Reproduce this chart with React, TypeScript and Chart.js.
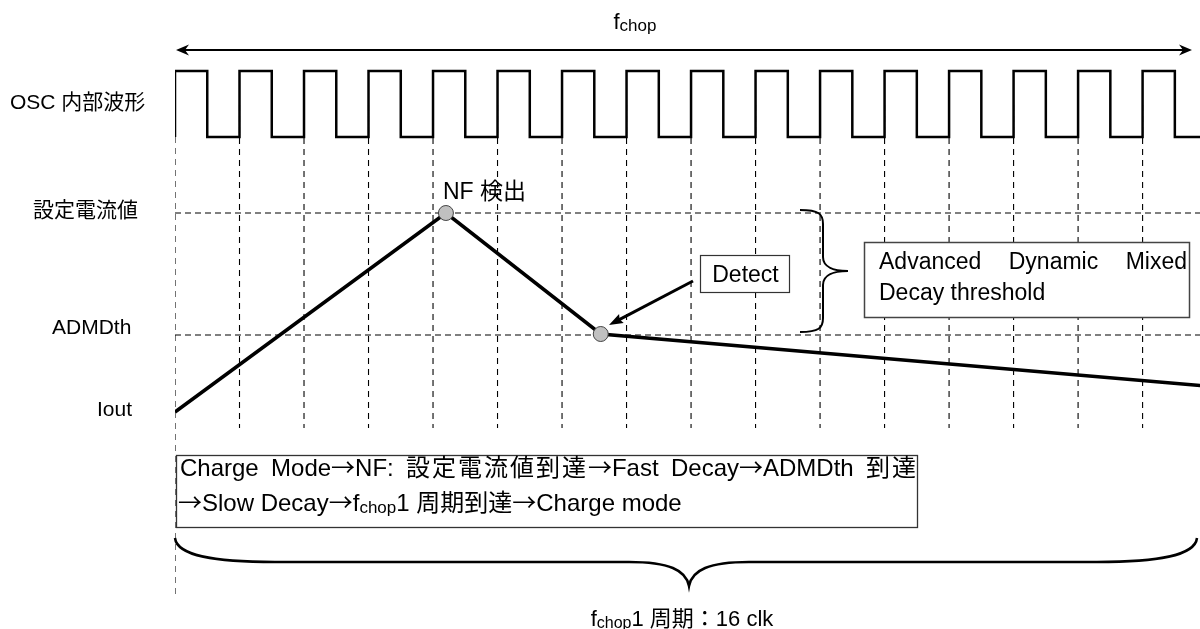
import React, { useEffect, useRef } from "react";
import { Chart, registerables } from "chart.js";

Chart.register(...registerables);

// ---- data (time in clk, levels in arbitrary current units) ----
const clkRise = [0, 1, 2, 3, 4, 5, 6, 7, 8, 9, 10, 11, 12, 13, 14, 15];
const clkFall = [0.5, 1.5, 2.5, 3.5, 4.5, 5.5, 6.5, 7.5, 8.5, 9.5, 10.5, 11.5, 12.5, 13.5, 14.5, 15.5];
const oscHigh = 55.8;
const oscLow = 49.2;
const gridTop = 52.4;
const gridBottom = 20.1;
const gridBottomFirst = 3.4;
const ioutTime = [0, 4.2, 6.6, 16];
const ioutLevel = [21.7, 41.6, 29.5, 24.3];
const ioutMarker = [0, 7.5, 7.5, 0];
const setCurrentLevel = 41.6;
const admdThLevel = 29.4;
const xMax = 15.89;
const yMax = 62.9;
const levelNames = ["OSC 内部波形", "設定電流値", "ADMDth", "Iout"];
const periodClk = 16;

const FONT = '"Liberation Sans", Arial, "Noto Sans CJK JP", sans-serif';
const ARROW_FONT = '"Noto Sans CJK JP", "DejaVu Sans", sans-serif';

type Seg = { t: string; size: number; dy: number };

function fontFor(c: string, size: number) {
  return c === "→" ? `${size}px ${ARROW_FONT}` : `${size}px ${FONT}`;
}

function charW(ctx: CanvasRenderingContext2D, c: string, size: number) {
  ctx.font = fontFor(c, size);
  return ctx.measureText(c).width;
}

function richWidth(ctx: CanvasRenderingContext2D, segs: Seg[]) {
  let w = 0;
  for (const s of segs) for (const c of Array.from(s.t)) w += charW(ctx, c, s.size);
  return w;
}

function drawRich(ctx: CanvasRenderingContext2D, segs: Seg[], x: number, y: number) {
  let cx = x;
  ctx.textAlign = "left";
  ctx.textBaseline = "alphabetic";
  for (const s of segs) {
    for (const c of Array.from(s.t)) {
      const w = charW(ctx, c, s.size);
      ctx.fillText(c, cx, y + s.dy);
      cx += w;
    }
  }
}

function isCJK(c: string) {
  const code = c.charCodeAt(0);
  return code >= 0x2e80;
}

function drawJustified(ctx: CanvasRenderingContext2D, text: string, x0: number, x1: number, y: number, size: number, cjkWeight: number) {
  ctx.textAlign = "left";
  ctx.textBaseline = "alphabetic";
  const chars = Array.from(text);
  const widths = chars.map((c) => charW(ctx, c, size));
  let natural = 0;
  let weightSum = 0;
  const gaps: number[] = [];
  chars.forEach((c, i) => {
    natural += widths[i];
    let g = 0;
    if (i < chars.length - 1) {
      if (c === " ") g = 1;
      else if (isCJK(c) || isCJK(chars[i + 1])) g = cjkWeight;
    }
    gaps.push(g);
    weightSum += g;
  });
  const unit = weightSum > 0 ? Math.max(0, (x1 - x0 - natural) / weightSum) : 0;
  let cx = x0;
  chars.forEach((c, i) => {
    ctx.font = fontFor(c, size);
    ctx.fillText(c, cx, y);
    cx += widths[i] + gaps[i] * unit;
  });
}

function arrowHead(ctx: CanvasRenderingContext2D, tipX: number, tipY: number, angle: number, len: number, half: number, notch: number) {
  ctx.save();
  ctx.translate(tipX, tipY);
  ctx.rotate(angle);
  ctx.beginPath();
  ctx.moveTo(0, 0);
  ctx.lineTo(-len, -half);
  ctx.lineTo(-len + notch, 0);
  ctx.lineTo(-len, half);
  ctx.closePath();
  ctx.fill();
  ctx.restore();
}

const overlay = {
  id: "overlay",
  afterDraw(chart: any) {
    const ctx: CanvasRenderingContext2D = chart.ctx;
    const xs = chart.scales.x;
    const ys = chart.scales.y;
    const px = (v: number) => xs.getPixelForValue(v);
    const py = (v: number) => ys.getPixelForValue(v);
    ctx.save();
    ctx.fillStyle = "#000";
    ctx.strokeStyle = "#000";

    // level labels
    ctx.font = `21px ${FONT}`;
    ctx.textBaseline = "middle";
    ctx.textAlign = "left";
    ctx.fillText(levelNames[0], 10, py((oscHigh + oscLow) / 2) - 0.5);
    ctx.fillText(levelNames[1], 33, py(setCurrentLevel) - 2);
    ctx.fillText(levelNames[2], 52, py(admdThLevel) - 6.5);
    ctx.fillText(levelNames[3], 97, py(ioutLevel[0]) - 1.5);

    // top f_chop double arrow
    const ay = 50;
    const ax0 = px(0) + 1;
    const ax1 = 1192;
    ctx.lineWidth = 2;
    ctx.beginPath();
    ctx.moveTo(ax0 + 6, ay);
    ctx.lineTo(ax1 - 6, ay);
    ctx.stroke();
    arrowHead(ctx, ax0, ay, Math.PI, 13, 5.5, 4);
    arrowHead(ctx, ax1, ay, 0, 13, 5.5, 4);
    const topSegs: Seg[] = [
      { t: "f", size: 22, dy: 0 },
      { t: "chop", size: 17, dy: 2 },
    ];
    const tw = richWidth(ctx, topSegs);
    drawRich(ctx, topSegs, 635 - tw / 2, 29);

    // NF 検出
    ctx.font = `23px ${FONT}`;
    ctx.textBaseline = "alphabetic";
    ctx.textAlign = "left";
    ctx.fillText("NF 検出", 443, 199);

    // Detect box
    ctx.lineWidth = 1.2;
    ctx.strokeStyle = "#333";
    ctx.fillStyle = "#fff";
    ctx.fillRect(700, 255, 89, 37);
    ctx.strokeRect(700.5, 255.5, 89, 37);
    ctx.fillStyle = "#000";
    ctx.font = `23px ${FONT}`;
    ctx.textAlign = "center";
    ctx.fillText("Detect", 745.5, 282);

    // Detect arrow
    ctx.strokeStyle = "#000";
    ctx.lineWidth = 3;
    const tipX = 609;
    const tipY = 325;
    const sx = 693;
    const sy = 281;
    const ang = Math.atan2(tipY - sy, tipX - sx);
    ctx.beginPath();
    ctx.moveTo(sx, sy);
    ctx.lineTo(tipX - Math.cos(ang) * 10, tipY - Math.sin(ang) * 10);
    ctx.stroke();
    arrowHead(ctx, tipX, tipY, ang, 14, 5, 2);

    // vertical brace
    ctx.lineWidth = 2;
    {
      const x0 = 800, xs2 = 823, xt = 848, yt = py(setCurrentLevel) - 3, yb = py(admdThLevel) - 3;
      const ym = (yt + yb) / 2;
      const r = 14;
      ctx.beginPath();
      ctx.moveTo(x0, yt);
      ctx.bezierCurveTo(xs2 - 4, yt, xs2, yt + 4, xs2, yt + r);
      ctx.lineTo(xs2, ym - r);
      ctx.bezierCurveTo(xs2, ym - 4, xt - 14, ym, xt, ym);
      ctx.bezierCurveTo(xt - 14, ym, xs2, ym + 4, xs2, ym + r);
      ctx.lineTo(xs2, yb - r);
      ctx.bezierCurveTo(xs2, yb - 4, xs2 - 4, yb, x0, yb);
      ctx.stroke();
    }

    // Advanced box
    ctx.fillStyle = "#fff";
    ctx.fillRect(864, 242, 326, 75);
    ctx.strokeStyle = "#444";
    ctx.lineWidth = 1.5;
    ctx.strokeRect(864.5, 242.5, 325, 75);
    ctx.fillStyle = "#000";
    drawJustified(ctx, "Advanced Dynamic Mixed", 879, 1187, 269, 23, 0);
    ctx.font = `23px ${FONT}`;
    ctx.textAlign = "left";
    ctx.fillText("Decay threshold", 879, 300);

    // bottom text box
    ctx.fillStyle = "#fff";
    ctx.fillRect(176, 455, 741, 72);
    ctx.strokeStyle = "#333";
    ctx.lineWidth = 1.3;
    ctx.strokeRect(176.5, 455.5, 741, 72);
    ctx.fillStyle = "#000";
    drawJustified(ctx, "Charge Mode→NF: 設定電流値到達→Fast Decay→ADMDth 到達", 180, 916, 476, 24, 0.35);
    drawRich(ctx, [
      { t: "→Slow Decay→f", size: 24, dy: 0 },
      { t: "chop", size: 17, dy: 2 },
      { t: "1 周期到達→Charge mode", size: 24, dy: 0 },
    ], 178, 511);

    // bottom horizontal brace
    {
      const bx0 = px(0);
      const bx1 = 1197;
      const tip = (bx0 + 1203) / 2;
      const yEnd = 538;
      const ySp = 562;
      const yTip = 586;
      ctx.strokeStyle = "#000";
      ctx.lineWidth = 2.5;
      ctx.beginPath();
      ctx.moveTo(bx0, yEnd);
      ctx.bezierCurveTo(bx0 + 2, ySp - 6, bx0 + 40, ySp, bx0 + 100, ySp);
      ctx.lineTo(tip - 60, ySp);
      ctx.bezierCurveTo(tip - 20, ySp, tip - 3, ySp + 8, tip, yTip);
      ctx.bezierCurveTo(tip + 3, ySp + 8, tip + 20, ySp, tip + 60, ySp);
      ctx.lineTo(bx1 - 100, ySp);
      ctx.bezierCurveTo(bx1 - 40, ySp, bx1 - 2, ySp - 6, bx1, yEnd);
      ctx.stroke();

      const segs: Seg[] = [
        { t: "f", size: 22, dy: 0 },
        { t: "chop", size: 16, dy: 2 },
        { t: `1 周期：${periodClk} clk`, size: 22, dy: 0 },
      ];
      const w = richWidth(ctx, segs);
      ctx.fillStyle = "#000";
      drawRich(ctx, segs, 682 - w / 2, 626);
    }

    ctx.restore();
  },
};

export default function App() {
  const ref = useRef<HTMLCanvasElement>(null);
  useEffect(() => {
    if (!ref.current) return;
    const oscPts: { x: number; y: number }[] = [];
    clkRise.forEach((r, i) => {
      oscPts.push({ x: r, y: oscLow });
      oscPts.push({ x: r, y: oscHigh });
      oscPts.push({ x: clkFall[i], y: oscHigh });
      oscPts.push({ x: clkFall[i], y: oscLow });
    });
    oscPts.push({ x: periodClk, y: oscLow });

    const vPts: { x: number; y: number | null }[] = [];
    clkRise.forEach((r, i) => {
      vPts.push({ x: r, y: i === 0 ? oscLow : gridTop });
      vPts.push({ x: r, y: i === 0 ? gridBottomFirst : gridBottom });
      vPts.push({ x: r, y: null });
    });

    const ioutPts = ioutTime.map((t, i) => ({ x: t, y: ioutLevel[i] }));

    const chart = new Chart(ref.current, {
      type: "line",
      data: {
        datasets: [
          {
            data: ioutPts,
            borderColor: "#000",
            borderWidth: 3.5,
            pointRadius: ioutMarker,
            pointBackgroundColor: "#c0c0c0",
            pointBorderColor: "#444",
            pointBorderWidth: 1,
            tension: 0,
            order: 0,
          },
          {
            data: oscPts,
            borderColor: "#000",
            borderWidth: 2.5,
            pointRadius: 0,
            tension: 0,
            order: 1,
          },
          {
            data: [
              { x: 0, y: setCurrentLevel },
              { x: xMax, y: setCurrentLevel },
            ],
            borderColor: "#000",
            borderWidth: 1.1,
            borderDash: [6, 4],
            pointRadius: 0,
            order: 2,
          },
          {
            data: [
              { x: 0, y: admdThLevel },
              { x: xMax, y: admdThLevel },
            ],
            borderColor: "#000",
            borderWidth: 1.1,
            borderDash: [6, 4],
            pointRadius: 0,
            order: 3,
          },
          {
            data: vPts as any,
            borderColor: "#000",
            borderWidth: 1.1,
            borderDash: [6, 5],
            pointRadius: 0,
            spanGaps: false,
            order: 4,
          },
        ],
      },
      options: {
        animation: false,
        responsive: false,
        maintainAspectRatio: false,
        layout: { padding: { left: 175, right: 0, top: 0, bottom: 0 } },
        plugins: { legend: { display: false }, tooltip: { enabled: false } },
        scales: {
          x: { type: "linear", min: 0, max: xMax, display: false },
          y: { type: "linear", min: 0, max: yMax, display: false },
        },
        events: [],
      },
      plugins: [overlay],
    });
    return () => chart.destroy();
  }, []);
  return (
    <div style={{ position: "absolute", left: 0, top: 0, width: 1200, height: 629, background: "#fff" }}>
      <canvas ref={ref} width={1200} height={629} />
    </div>
  );
}
